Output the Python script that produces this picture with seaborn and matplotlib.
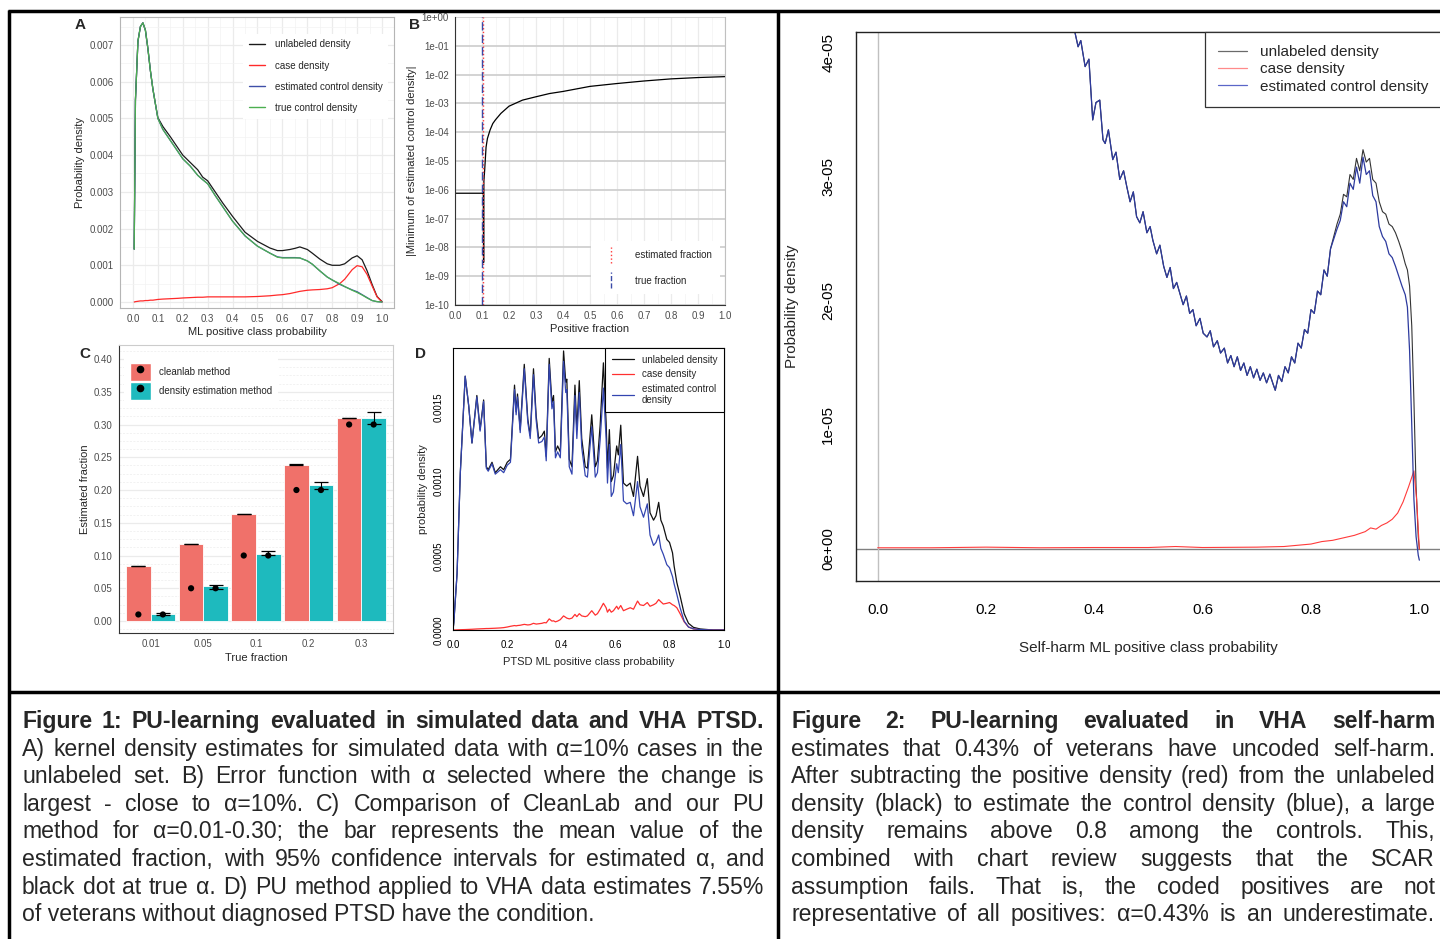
import numpy as np
import pandas as pd
import matplotlib
matplotlib.use("Agg")
import matplotlib.pyplot as plt
import seaborn as sns
from matplotlib.lines import Line2D
from matplotlib.patches import Patch
from matplotlib.legend_handler import HandlerBase
from matplotlib.ticker import MultipleLocator, NullLocator, FixedLocator

sns.set_theme(style="white")
plt.rcParams['font.family'] = ['Liberation Sans', 'DejaVu Sans']

# ---- A: simulated kernel densities ----
a_x = [0.005, 0.01, 0.02, 0.03, 0.04, 0.05, 0.06, 0.07, 0.08, 0.09, 0.10, 0.12, 0.15, 0.18, 0.20,
       0.23, 0.26, 0.28, 0.30, 0.33, 0.36, 0.40, 0.45, 0.50, 0.55, 0.58, 0.60, 0.63, 0.65, 0.67,
       0.70, 0.72, 0.75, 0.78, 0.80, 0.83, 0.85, 0.88, 0.90, 0.92, 0.94, 0.96, 0.98, 1.0]
a_unlabeled = [0.00144, 0.0055, 0.0071, 0.0075, 0.0076, 0.0074, 0.0069, 0.0063, 0.0058, 0.0054, 0.00502,
               0.00478, 0.0045, 0.0042, 0.0040, 0.0038, 0.0036, 0.0034, 0.0033, 0.0030, 0.0027, 0.00233,
               0.0019, 0.00165, 0.00147, 0.0014, 0.0014, 0.00143, 0.00146, 0.0015, 0.00143, 0.00133,
               0.00117, 0.00104, 0.0010, 0.0010, 0.00104, 0.0012, 0.00126, 0.00115, 0.00085, 0.00048,
               0.00015, 0.00001]
a_case = [0.0, 0.00001, 0.00002, 0.00003, 0.00003, 0.00004, 0.00004, 0.00005, 0.00005, 0.00006, 0.00007,
          0.00008, 0.00009, 0.0001, 0.00011, 0.00012, 0.00013, 0.00013, 0.00014, 0.00014, 0.00014, 0.00014,
          0.00014, 0.00015, 0.00017, 0.00019, 0.0002, 0.00023, 0.00026, 0.00029, 0.00032, 0.00033,
          0.00034, 0.00036, 0.00039, 0.0005, 0.00062, 0.00088, 0.00099, 0.00096, 0.00075, 0.00044,
          0.00014, 0.0]
a_est_control = [0.00144, 0.0055, 0.0071, 0.0075, 0.0076, 0.0074, 0.0069, 0.0063, 0.0058, 0.0054, 0.0050,
                 0.0047, 0.0044, 0.0041, 0.0039, 0.0037, 0.00345, 0.00333, 0.00322, 0.0029, 0.0026, 0.0022,
                 0.0018, 0.00152, 0.00133, 0.00123, 0.00121, 0.00121, 0.00121, 0.0012, 0.00112, 0.00103,
                 0.00085, 0.00068, 0.0006, 0.00048, 0.00042, 0.00033, 0.00028, 0.0002, 0.00012, 0.00004,
                 0.00001, 0.0]
a_true_control = [0.00144, 0.0055, 0.0071, 0.0075, 0.0076, 0.0074, 0.0069, 0.0063, 0.0058, 0.0054, 0.0050,
                  0.0047, 0.0044, 0.0041, 0.0039, 0.0037, 0.00345, 0.00333, 0.00322, 0.0029, 0.0026, 0.0022,
                  0.0018, 0.00152, 0.00133, 0.00122, 0.0012, 0.0012, 0.0012, 0.0012, 0.00112, 0.00103,
                  0.00085, 0.00068, 0.0006, 0.0005, 0.00042, 0.00032, 0.00026, 0.00019, 0.00011, 0.00004,
                  0.00001, 0.0]
a_labels = ['unlabeled density', 'case density', 'estimated control density', 'true control density']
a_colors = ['#1a1a1a', '#ff2a2a', '#3f4fa8', '#4caf50']

# ---- B: error function ----
b_x = [0.0, 0.05, 0.1, 0.104, 0.105, 0.106, 0.107, 0.11, 0.115, 0.12, 0.13, 0.14, 0.15, 0.17, 0.2,
       0.25, 0.3, 0.35, 0.4, 0.5, 0.6, 0.7, 0.8, 0.9, 1.0]
b_y = [7.6e-7, 7.6e-7, 7.6e-7, 7.6e-7, 7.6e-7, 3e-9, 2e-6, 5e-6, 3e-5, 6e-5, 1.2e-4, 2e-4, 2.7e-4,
       4.5e-4, 8e-4, 1.3e-3, 1.7e-3, 2.2e-3, 2.6e-3, 3.9e-3, 4.9e-3, 6.0e-3, 7.1e-3, 7.9e-3, 8.5e-3]
b_estimated_fraction = 0.105
b_true_fraction = 0.1

# ---- C: estimated vs true fraction ----
c_true = ['0.01', '0.05', '0.1', '0.2', '0.3']
c_true_value = [0.01, 0.05, 0.1, 0.2, 0.3]
c_methods = ['cleanlab method', 'density estimation method']
c_cleanlab = [0.0842, 0.1179, 0.1633, 0.2388, 0.3097]
c_cleanlab_lo = [0.0838, 0.1175, 0.1629, 0.2384, 0.3093]
c_cleanlab_hi = [0.0846, 0.1183, 0.1637, 0.2392, 0.3101]
c_density = [0.011, 0.053, 0.103, 0.207, 0.3097]
c_density_lo = [0.009, 0.0495, 0.1005, 0.201, 0.301]
c_density_hi = [0.0128, 0.0546, 0.107, 0.2128, 0.319]
c_colors = ['#f0716a', '#1ebabe']

# ---- D: VHA PTSD densities (x 1e-3) ----
d_x = [0.000, 0.003, 0.015, 0.027, 0.045, 0.058, 0.070, 0.088, 0.100, 0.113, 0.123, 0.130, 0.144, 0.156,
       0.175, 0.187, 0.200, 0.212, 0.227, 0.233, 0.238, 0.248, 0.263, 0.276, 0.285, 0.297, 0.307, 0.316,
       0.328, 0.337, 0.344, 0.355, 0.365, 0.371, 0.378, 0.386, 0.396, 0.408, 0.416, 0.420, 0.429, 0.439,
       0.450, 0.457, 0.466, 0.475, 0.488, 0.496, 0.512, 0.525, 0.533, 0.543, 0.555, 0.565, 0.570, 0.577,
       0.584, 0.592, 0.604, 0.610, 0.619, 0.629, 0.641, 0.654, 0.666, 0.681, 0.690, 0.703, 0.717, 0.727,
       0.740, 0.749, 0.759, 0.767, 0.776, 0.789, 0.799, 0.810, 0.816, 0.826, 0.838, 0.853, 0.869, 0.887,
       0.912, 0.960, 1.000]
d_unlabeled = [0.00, 0.05, 0.38, 1.06, 1.71, 1.51, 1.26, 1.58, 1.35, 1.55, 1.10, 1.08, 1.13, 1.06,
               1.10, 1.08, 1.13, 1.15, 1.65, 1.47, 1.59, 1.35, 1.79, 1.42, 1.31, 1.76, 1.44, 1.29,
               1.31, 1.34, 1.17, 1.83, 1.53, 1.58, 1.20, 1.24, 1.20, 1.88, 1.67, 1.69, 1.15, 1.10,
               1.65, 1.35, 1.68, 1.29, 1.10, 1.09, 1.45, 1.10, 1.14, 1.38, 1.80, 1.40, 1.09, 1.35,
               1.00, 1.04, 1.24, 1.18, 1.38, 0.99, 0.97, 0.99, 0.90, 1.17, 0.97, 0.90, 1.02, 0.79,
               0.74, 0.77, 0.86, 0.74, 0.70, 0.61, 0.59, 0.52, 0.43, 0.32, 0.23, 0.11, 0.045, 0.018,
               0.007, 0.0, 0.0]
d_control = [0.00, 0.05, 0.38, 1.06, 1.71, 1.51, 1.26, 1.57, 1.34, 1.54, 1.09, 1.07, 1.12, 1.05,
             1.08, 1.06, 1.11, 1.13, 1.62, 1.45, 1.57, 1.33, 1.76, 1.40, 1.29, 1.72, 1.41, 1.26,
             1.27, 1.30, 1.14, 1.79, 1.49, 1.54, 1.16, 1.20, 1.16, 1.81, 1.60, 1.62, 1.10, 1.05,
             1.58, 1.29, 1.60, 1.23, 1.04, 1.03, 1.37, 1.03, 1.06, 1.28, 1.63, 1.29, 0.99, 1.25,
             0.90, 0.93, 1.12, 1.06, 1.25, 0.87, 0.85, 0.86, 0.77, 1.00, 0.83, 0.76, 0.85, 0.64,
             0.57, 0.59, 0.64, 0.55, 0.51, 0.44, 0.42, 0.36, 0.31, 0.24, 0.15, 0.06, 0.02, 0.008,
             0.003, 0.0, 0.0]
d_case = [0.000, 0.000, 0.001, 0.002, 0.003, 0.004, 0.005, 0.007, 0.008, 0.009, 0.010, 0.010, 0.011, 0.012,
          0.014, 0.016, 0.020, 0.025, 0.030, 0.028, 0.030, 0.032, 0.038, 0.034, 0.036, 0.045, 0.040, 0.042,
          0.045, 0.050, 0.048, 0.075, 0.060, 0.062, 0.055, 0.060, 0.070, 0.095, 0.085, 0.080, 0.075, 0.080,
          0.105, 0.090, 0.110, 0.095, 0.090, 0.095, 0.130, 0.100, 0.110, 0.140, 0.180, 0.150, 0.120, 0.140,
          0.120, 0.130, 0.160, 0.140, 0.165, 0.130, 0.140, 0.150, 0.140, 0.195, 0.170, 0.165, 0.185, 0.160,
          0.170, 0.180, 0.205, 0.190, 0.175, 0.180, 0.185, 0.170, 0.165, 0.150, 0.110, 0.055, 0.020, 0.007,
          0.002, 0.000, 0.000]

# ---- Figure 2: VHA self-harm densities (x 1e-5) ----
f2_x = [0.360, 0.364, 0.370, 0.375, 0.383, 0.390, 0.397, 0.403, 0.410, 0.416, 0.420, 0.426, 0.434, 0.440,
        0.447, 0.454, 0.460, 0.466, 0.472, 0.478, 0.484, 0.490, 0.497, 0.503, 0.508, 0.515, 0.521, 0.528,
        0.534, 0.540, 0.546, 0.552, 0.558, 0.564, 0.570, 0.576, 0.582, 0.588, 0.595, 0.601, 0.608, 0.614,
        0.620, 0.627, 0.633, 0.640, 0.646, 0.652, 0.658, 0.664, 0.670, 0.676, 0.682, 0.688, 0.694, 0.700,
        0.706, 0.712, 0.718, 0.724, 0.730, 0.734, 0.740, 0.746, 0.752, 0.758, 0.764, 0.770, 0.776, 0.782,
        0.788, 0.794, 0.800, 0.806, 0.812, 0.818, 0.824, 0.830, 0.836,
        0.842, 0.848, 0.854, 0.860, 0.866, 0.872, 0.878, 0.884, 0.890, 0.896, 0.902, 0.908, 0.914, 0.920,
        0.926, 0.932, 0.938, 0.944, 0.950, 0.956, 0.962, 0.968, 0.974, 0.978, 0.982, 0.986, 0.990, 0.994,
        0.998, 1.000]
f2_control = [4.30, 4.17, 4.05, 4.10, 3.89, 3.95, 3.46, 3.60, 3.62, 3.30, 3.27, 3.38, 3.14, 3.20,
              2.98, 3.05, 2.92, 2.80, 2.88, 2.68, 2.63, 2.72, 2.55, 2.60, 2.49, 2.38, 2.45, 2.28,
              2.19, 2.27, 2.10, 2.15, 2.06, 1.97, 2.04, 1.90, 1.93, 1.80, 1.86, 1.74, 1.71, 1.76,
              1.63, 1.68, 1.58, 1.62, 1.50, 1.56, 1.47, 1.55, 1.44, 1.50, 1.40, 1.47, 1.38, 1.45,
              1.36, 1.42, 1.34, 1.41, 1.33, 1.28, 1.40, 1.35, 1.47, 1.42, 1.55, 1.50, 1.66, 1.62,
              1.77, 1.74, 1.93, 1.90, 2.08, 2.05, 2.25, 2.20, 2.42,
              2.50, 2.58, 2.65, 2.80, 2.76, 2.95, 2.90, 3.08, 2.95, 3.16, 3.02, 3.05, 2.85, 2.80,
              2.60, 2.52, 2.48, 2.38, 2.35, 2.28, 2.20, 2.12, 2.05, 1.95, 1.60, 1.00, 0.40, 0.10,
              -0.05, -0.09]
# unlabeled differs from the control curve only above ~0.84
f2_unlabeled_tail = [2.52, 2.62, 2.70, 2.86, 2.84, 3.02, 2.98, 3.15, 3.05, 3.22, 3.12, 3.15, 2.98, 2.95,
                     2.80, 2.72, 2.70, 2.62, 2.60, 2.55, 2.48, 2.40, 2.30, 2.25, 2.12, 1.80, 1.20, 0.50,
                     0.10, 0.00]
f2_case_x = [0.0, 0.1, 0.2, 0.3, 0.4, 0.5, 0.55, 0.6, 0.7, 0.75, 0.8, 0.82, 0.84, 0.86, 0.88, 0.9, 0.91,
             0.92, 0.93, 0.94, 0.95, 0.96, 0.97, 0.98, 0.99, 0.995, 1.0]
f2_case = [0.01, 0.01, 0.015, 0.01, 0.012, 0.012, 0.02, 0.012, 0.015, 0.02, 0.04, 0.06, 0.07, 0.09, 0.11,
           0.14, 0.17, 0.16, 0.19, 0.21, 0.24, 0.29, 0.38, 0.50, 0.63, 0.40, 0.0]

caption1 = ["Figure 1: PU-learning evaluated in simulated data and VHA PTSD.",
            "A) kernel density estimates for simulated data with α=10% cases in the",
            "unlabeled set. B) Error function with α selected where the change is",
            "largest - close to α=10%. C) Comparison of CleanLab and our PU",
            "method for α=0.01-0.30; the bar represents the mean value of the",
            "estimated fraction, with 95% confidence intervals for estimated α, and",
            "black dot at true α. D) PU method applied to VHA data estimates 7.55%",
            "of veterans without diagnosed PTSD have the condition."]
caption2 = ["Figure 2: PU-learning evaluated in VHA self-harm",
            "estimates that 0.43% of veterans have uncoded self-harm.",
            "After subtracting the positive density (red) from the unlabeled",
            "density (black) to estimate the control density (blue), a large",
            "density remains above 0.8 among the controls. This,",
            "combined with chart review suggests that the SCAR",
            "assumption fails. That is, the coded positives are not",
            "representative of all positives: α=0.43% is an underestimate."]

W, H = 1440, 939
fig = plt.figure(figsize=(W / 100, H / 100), dpi=100)
fig.patch.set_facecolor('white')


def box(x0, y0, x1, y1):
    return [x0 / W, 1 - y1 / H, (x1 - x0) / W, (y1 - y0) / H]


def gg_style(ax):
    ax.tick_params(axis='both', which='major', length=3, width=0.6, color='#555555',
                   labelcolor='#4d4d4d', labelsize=7, pad=1.5, direction='out')
    ax.tick_params(axis='both', which='minor', length=0)


# ---------------- A ----------------
axA = fig.add_axes(box(120, 17, 394, 308))
dfA = pd.DataFrame({
    'x': a_x * 4,
    'y': a_unlabeled + a_case + a_est_control + a_true_control,
    'series': sum([[s] * len(a_x) for s in a_labels], []),
})
sns.lineplot(data=dfA, x='x', y='y', hue='series', hue_order=a_labels, palette=a_colors,
             estimator=None, sort=False, lw=0.9, ax=axA)
axA.set_xlim(-0.052, 1.048)
axA.set_ylim(-0.000163, 0.00776)
axA.xaxis.set_minor_locator(MultipleLocator(0.05))
axA.yaxis.set_minor_locator(MultipleLocator(0.0005))
axA.set_xticks(np.arange(0, 1.01, 0.1))
axA.set_xticklabels([f"{v:.1f}" for v in np.arange(0, 1.01, 0.1)])
axA.set_yticks(np.arange(0, 0.0071, 0.001))
axA.set_yticklabels([f"{v:.3f}" for v in np.arange(0, 0.0071, 0.001)])
axA.grid(which='major', color='#ebebeb', lw=0.9)
axA.grid(which='minor', color='#f3f3f3', lw=0.5)
axA.set_axisbelow(True)
for s in axA.spines.values():
    s.set_color('#b5b5b5')
    s.set_linewidth(0.8)
gg_style(axA)
axA.set_xlabel('ML positive class probability', fontsize=8, labelpad=2)
axA.set_ylabel('Probability density', fontsize=8, labelpad=3)
h, l = axA.get_legend_handles_labels()
legA = axA.legend(h, l, loc='upper left', bbox_to_anchor=(0.43, 0.96), fontsize=7, frameon=True,
                  facecolor='white', edgecolor='none', framealpha=1, fancybox=False,
                  handlelength=1.7, handletextpad=1.0, labelspacing=1.15, borderpad=0.6)
for ln in legA.get_lines():
    ln.set_linewidth(1.0)

# ---------------- B ----------------
axB = fig.add_axes(box(455, 17, 725, 305))
sns.lineplot(x=b_x, y=b_y, color='black', lw=0.9, estimator=None, sort=False, ax=axB)
axB.set_yscale('log')
axB.set_xlim(0, 1)
axB.set_ylim(1e-10, 1)
est_line = axB.axvline(b_estimated_fraction, color='#ff3b3b', lw=1.0, ls=':', label='estimated fraction')
true_line = axB.axvline(b_true_fraction, color='#3b4ba8', lw=1.0, ls=(0, (6, 3)), label='true fraction')
ex = list(range(-10, 1))
axB.yaxis.set_major_locator(FixedLocator([10.0 ** e for e in ex]))
axB.yaxis.set_minor_locator(NullLocator())
axB.set_yticklabels([f"1e{e:+03d}" for e in ex])
axB.set_xticks(np.arange(0, 1.01, 0.1))
axB.set_xticklabels([f"{v:.1f}" for v in np.arange(0, 1.01, 0.1)])
axB.xaxis.set_minor_locator(MultipleLocator(0.05))
axB.grid(which='major', axis='y', color='#d0d0d0', lw=1.3)
axB.grid(which='major', axis='x', color='#ebebeb', lw=0.9)
axB.grid(which='minor', axis='x', color='#f3f3f3', lw=0.5)
axB.set_axisbelow(True)
axB.spines['top'].set_visible(False)
axB.spines['right'].set_color('#c0c0c0')
axB.spines['right'].set_linewidth(0.8)
for k in ['left', 'bottom']:
    axB.spines[k].set_color('#333333')
    axB.spines[k].set_linewidth(0.8)
gg_style(axB)
axB.set_xlabel('Positive fraction', fontsize=8, labelpad=2)
axB.set_ylabel('|Minimum of estimated control density|', fontsize=8, labelpad=3)


class VLineHandler(HandlerBase):
    def create_artists(self, legend, orig_handle, xdescent, ydescent, width, height, fontsize, trans):
        xm = width / 2 - xdescent
        ln = Line2D([xm, xm], [-ydescent - 0.7 * height, -ydescent + 1.7 * height],
                    color=orig_handle.get_color(), linestyle=orig_handle.get_linestyle(),
                    lw=orig_handle.get_linewidth())
        ln.set_transform(trans)
        return [ln]


axB.legend([est_line, true_line], ['estimated fraction', 'true fraction'],
           handler_map={Line2D: VLineHandler()}, loc='lower right', bbox_to_anchor=(1.0, 0.02),
           fontsize=7, frameon=True, facecolor='white', edgecolor='none', framealpha=1,
           fancybox=False, handlelength=2.4, handletextpad=1.2, labelspacing=1.6, borderpad=0.9)

# ---------------- C ----------------
axC = fig.add_axes(box(119, 345, 393, 633))
dfC = pd.DataFrame({
    'true': c_true * 2,
    'est': c_cleanlab + c_density,
    'method': [c_methods[0]] * 5 + [c_methods[1]] * 5,
})
sns.barplot(data=dfC, x='true', y='est', hue='method', order=c_true, hue_order=c_methods,
            palette=c_colors, saturation=1, width=0.93, edgecolor='white', linewidth=0.6,
            errorbar=None, legend=False, ax=axC)
bars = sorted(axC.patches, key=lambda p: p.get_x())
centers = np.array([p.get_x() + p.get_width() / 2 for p in bars])
means = np.array([v for pair in zip(c_cleanlab, c_density) for v in pair])
los = np.array([v for pair in zip(c_cleanlab_lo, c_density_lo) for v in pair])
his = np.array([v for pair in zip(c_cleanlab_hi, c_density_hi) for v in pair])
axC.errorbar(centers, means, yerr=[means - los, his - means], fmt='none', ecolor='black',
             elinewidth=0.8, capsize=5, capthick=0.9, zorder=4)
dots = np.array([v for v in c_true_value for _ in range(2)])
sns.scatterplot(x=centers, y=dots, color='black', s=20, edgecolor='none', zorder=5, ax=axC)
axC.set_xlim(-0.6, 4.6)
axC.set_ylim(-0.0183, 0.4214)
axC.set_yticks(np.arange(0, 0.401, 0.05))
axC.set_yticklabels([f"{v:.2f}" for v in np.arange(0, 0.401, 0.05)])
axC.yaxis.set_minor_locator(MultipleLocator(0.0125))
axC.grid(which='major', axis='y', color='#ebebeb', lw=0.9)
axC.grid(which='minor', axis='y', color='#ededed', lw=0.5, ls=(0, (3, 2)))
axC.grid(axis='x', visible=False)
axC.set_axisbelow(True)
for k in ['top', 'right']:
    axC.spines[k].set_color('#cccccc')
    axC.spines[k].set_linewidth(0.8)
for k in ['left', 'bottom']:
    axC.spines[k].set_color('#333333')
    axC.spines[k].set_linewidth(0.8)
gg_style(axC)
axC.set_xlabel('True fraction', fontsize=8, labelpad=3)
axC.set_ylabel('Estimated fraction', fontsize=8, labelpad=3)
c_handles = [(Patch(facecolor=c, edgecolor='white'),
              Line2D([], [], marker='o', color='black', ls='none', markersize=4.5)) for c in c_colors]
axC.legend(c_handles, c_methods, loc='upper left', bbox_to_anchor=(0.0, 0.975), fontsize=7,
           frameon=True, facecolor='white', edgecolor='none', framealpha=1, fancybox=False,
           handlelength=2.2, handleheight=2.5, handletextpad=0.8, labelspacing=0.1, borderpad=0.6)

# ---------------- D ----------------
axD = fig.add_axes(box(453, 348, 724, 630))
dfD = pd.DataFrame({
    'x': d_x * 3,
    'y': np.array(d_unlabeled + d_case + d_control) * 1e-3,
    'series': ['unlabeled density'] * len(d_x) + ['case density'] * len(d_x)
              + ['estimated control\ndensity'] * len(d_x),
})
sns.lineplot(data=dfD, x='x', y='y', hue='series',
             hue_order=['unlabeled density', 'case density', 'estimated control\ndensity'],
             palette=['#111111', '#ff3030', '#3345b0'], estimator=None, sort=False, lw=0.9, ax=axD)
axD.set_xlim(0, 1)
axD.set_ylim(0, 0.0019)
axD.set_xticks(np.arange(0, 1.01, 0.2))
axD.set_xticklabels([f"{v:.1f}" for v in np.arange(0, 1.01, 0.2)])
axD.set_yticks([0, 0.0005, 0.001, 0.0015])
axD.set_yticklabels(['0.0000', '0.0005', '0.0010', '0.0015'], rotation=90, va='center')
axD.grid(False)
for s in axD.spines.values():
    s.set_color('black')
    s.set_linewidth(0.8)
axD.tick_params(axis='both', length=4, width=0.6, color='black', labelcolor='black',
                labelsize=7, pad=3, direction='out')
axD.set_xlabel('PTSD ML positive class probability', fontsize=8, labelpad=5)
axD.set_ylabel('probability density', fontsize=8, labelpad=4)
h, l = axD.get_legend_handles_labels()
legD = axD.legend(h, l, loc='upper right', borderaxespad=0, fontsize=7, frameon=True,
                  facecolor='white', edgecolor='black', framealpha=1, fancybox=False,
                  handlelength=2.3, handletextpad=0.8, labelspacing=0.45, borderpad=0.7)
legD.get_frame().set_linewidth(0.8)

for letter, (px, py) in [('A', (80, 25)), ('B', (415, 25)), ('C', (85, 354)), ('D', (421, 354))]:
    fig.text(px / W, 1 - py / H, letter, fontsize=11, weight='bold', ha='center', va='center')

# ---------------- Figure 2 ----------------
ax2 = fig.add_axes(box(856, 32, 1441, 581))
ax2.axhline(0, color='#808080', lw=1.0, zorder=1)
ax2.axvline(0, color='#c0c0c0', lw=1.0, zorder=1)
n_same = len(f2_x) - len(f2_unlabeled_tail)
f2_unlabeled = f2_control[:n_same] + f2_unlabeled_tail
sns.lineplot(x=f2_x, y=np.array(f2_unlabeled) * 1e-5, color='#333333', lw=0.8, estimator=None,
             sort=False, label='unlabeled density', ax=ax2)
sns.lineplot(x=f2_case_x, y=np.array(f2_case) * 1e-5, color='#ff3b3b', lw=0.8, estimator=None,
             sort=False, label='case density', ax=ax2)
sns.lineplot(x=f2_x, y=np.array(f2_control) * 1e-5, color='#2d3a9e', lw=0.9, estimator=None,
             sort=False, label='estimated control density', ax=ax2)
ax2.set_xlim(-0.04, 1.04)
ax2.set_ylim(-0.258e-5, 4.169e-5)
ax2.set_xticks(np.arange(0, 1.01, 0.2))
ax2.set_xticklabels([f"{v:.1f}" for v in np.arange(0, 1.01, 0.2)])
ax2.set_yticks([0, 1e-5, 2e-5, 3e-5, 4e-5])
ax2.set_yticklabels(['0e+00', '1e-05', '2e-05', '3e-05', '4e-05'], rotation=90, va='center')
ax2.grid(False)
for s in ax2.spines.values():
    s.set_color('#222222')
    s.set_linewidth(1.0)
ax2.tick_params(axis='both', length=6, width=0.8, color='#222222', labelcolor='black',
                labelsize=11, direction='out')
ax2.tick_params(axis='x', pad=10)
ax2.tick_params(axis='y', pad=9)
ax2.set_xlabel('Self-harm ML positive class probability', fontsize=11, labelpad=17)
ax2.set_ylabel('Probability density', fontsize=11, labelpad=16)
h, l = ax2.get_legend_handles_labels()
leg2 = ax2.legend(h, l, loc='upper right', borderaxespad=0, fontsize=11, frameon=True,
                  facecolor='white', edgecolor='#333333', framealpha=1, fancybox=False,
                  handlelength=1.9, handletextpad=0.85, labelspacing=0.22, borderpad=0.85)
leg2.get_frame().set_linewidth(0.9)
for ln, c in zip(leg2.get_lines(), ['#6a6a6a', '#ff8a8a', '#5a66c8']):
    ln.set_linewidth(0.9)
    ln.set_color(c)


# ---------------- frame lines ----------------
def fline(xs, ys, lw=2.5):
    fig.add_artist(Line2D([x / W for x in xs], [1 - y / H for y in ys], transform=fig.transFigure,
                          color='black', lw=lw, solid_capstyle='butt'))


fline([8, 1440], [11, 11])
fline([9, 9], [10, 939])
fline([778, 778], [10, 939])
fline([8, 1440], [692, 692])

# ---------------- captions (justified) ----------------
renderer = fig.canvas.get_renderer()
baselines = [728 + 27.6 * i for i in range(8)]
blocks = [(caption1, 22, 764, False), (caption2, 791, 1435, True)]


def natural_width(line, size, weight):
    t = fig.text(0, 0, line, fontsize=size, weight=weight)
    w = t.get_window_extent(renderer).width
    t.remove()
    return w


# pick one font size so the longest justified line just fits
ratios = []
for lines, x0, x1, last_j in blocks:
    for i, line in enumerate(lines):
        if i < len(lines) - 1 or last_j:
            ratios.append((x1 - x0) / natural_width(line, 10, 'bold' if i == 0 else 'normal'))
cap_size = 10 * min(ratios) * 0.985


def justified(lines, x0, x1, last_justified):
    for i, (line, yb) in enumerate(zip(lines, baselines)):
        weight = 'bold' if i == 0 else 'normal'
        do_just = (i < len(lines) - 1) or last_justified
        if not do_just:
            fig.text(x0 / W, 1 - yb / H, line, fontsize=cap_size, weight=weight,
                     ha='left', va='baseline')
            continue
        words = line.split(' ')
        texts = [fig.text(0, 1 - yb / H, w, fontsize=cap_size, weight=weight, ha='left', va='baseline')
                 for w in words]
        widths = [t.get_window_extent(renderer).width for t in texts]
        gap = (x1 - x0 - sum(widths)) / (len(words) - 1)
        xx = x0
        for t, w in zip(texts, widths):
            t.set_x(xx / W)
            xx += w + gap


for lines, x0, x1, last_j in blocks:
    justified(lines, x0, x1, last_j)

fig.savefig('out.png', dpi=100, facecolor='white')
